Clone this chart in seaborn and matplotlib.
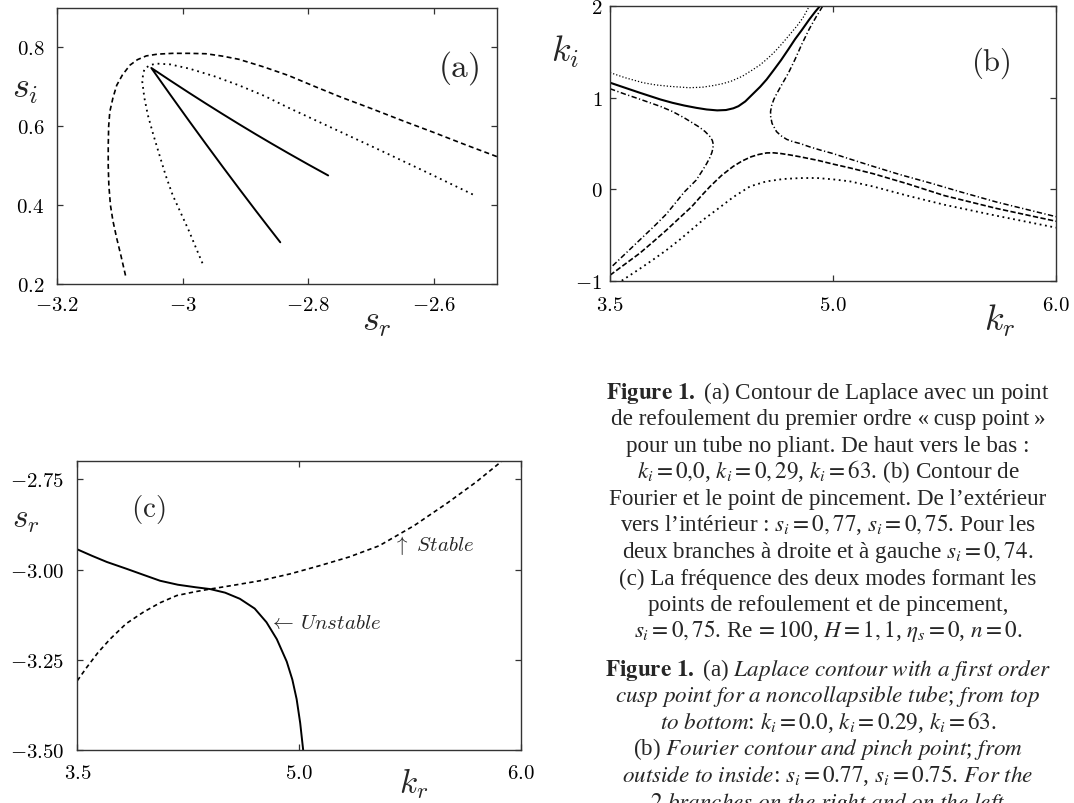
import matplotlib
matplotlib.use("Agg")
import matplotlib.pyplot as plt
import seaborn as sns

# ---------------- data ----------------
# Panel (a): Laplace contour, s_r (x) vs s_i (y)
a_k000_sr = [-3.091, -3.098, -3.105, -3.111, -3.115, -3.1175, -3.1185, -3.1185, -3.1178,
             -3.116, -3.111, -3.105, -3.096, -3.084, -3.072, -3.058, -3.04, -3.016, -2.99,
             -2.963, -2.937, -2.911, -2.872, -2.832, -2.79, -2.75, -2.70, -2.65, -2.60,
             -2.55, -2.50]
a_k000_si = [0.2215, 0.270, 0.316, 0.360, 0.400, 0.450, 0.500, 0.550, 0.600,
             0.637, 0.672, 0.704, 0.730, 0.755, 0.769, 0.7785, 0.783, 0.785, 0.785,
             0.784, 0.778, 0.770, 0.751, 0.729, 0.701, 0.675, 0.645, 0.614, 0.584,
             0.553, 0.523]
a_k029_sr = [-2.9686, -2.979, -2.9896, -3.003, -3.016, -3.027, -3.037, -3.047, -3.0554,
             -3.061, -3.0643, -3.063, -3.0606, -3.052, -3.0422, -3.02, -2.9896, -2.95,
             -2.9107, -2.87, -2.8317, -2.76, -2.6897, -2.61, -2.5345]
a_k029_si = [0.2527, 0.292, 0.333, 0.380, 0.4256, 0.475, 0.527, 0.580, 0.628,
             0.672, 0.7127, 0.733, 0.7463, 0.755, 0.759, 0.757, 0.7463, 0.727,
             0.704, 0.677, 0.647, 0.594, 0.542, 0.482, 0.424]
a_k63_sr = [-2.8448, -2.865, -2.884, -2.91, -2.937, -2.963, -2.99, -3.02, -3.050,
            -3.02, -2.99, -2.963, -2.937, -2.91, -2.884, -2.858, -2.832, -2.80, -2.7686]
a_k63_si = [0.3058, 0.3472, 0.3865, 0.4411, 0.4986, 0.5548, 0.6139, 0.6805, 0.748,
            0.7162, 0.685, 0.6575, 0.6315, 0.605, 0.580, 0.5556, 0.5317, 0.5029, 0.4753]
a_xticks = [-3.2, -3.0, -2.8, -2.6]
a_xticklabels = [r"$-3.2$", r"$-3$", r"$-2.8$", r"$-2.6$"]
a_yticks = [0.2, 0.4, 0.6, 0.8]
a_yticklabels = [r"$0.2$", r"$0.4$", r"$0.6$", r"$0.8$"]

# Panel (b): Fourier contour, k_r (x) vs k_i (y)
b_s077_up_kr = [3.5, 3.6, 3.721, 3.81, 3.9, 4.031, 4.12, 4.2, 4.26, 4.316, 4.39, 4.454,
                4.51, 4.554, 4.60, 4.64, 4.68, 4.721, 4.76, 4.80, 4.840]
b_s077_up_ki = [1.275, 1.22, 1.165, 1.14, 1.125, 1.110, 1.115, 1.135, 1.155, 1.182, 1.235,
                1.30, 1.36, 1.421, 1.49, 1.56, 1.635, 1.714, 1.79, 1.88, 2.0]
b_s075_up_kr = [3.5, 3.6, 3.7, 3.84, 3.92, 4.0, 4.08, 4.15, 4.221, 4.28, 4.33, 4.364, 4.41,
                4.46, 4.51, 4.554, 4.60, 4.65, 4.70, 4.745, 4.79, 4.84, 4.88, 4.911]
b_s075_up_ki = [1.165, 1.11, 1.055, 0.981, 0.945, 0.915, 0.89, 0.872, 0.862, 0.866, 0.885,
                0.908, 0.96, 1.04, 1.12, 1.201, 1.30, 1.41, 1.53, 1.641, 1.74, 1.855, 1.94, 2.0]
b_s074_left_kr = [3.5, 3.6, 3.7, 3.84, 3.92, 4.0, 4.06, 4.1, 4.14, 4.17, 4.188, 4.195, 4.192,
                  4.185, 4.17, 4.15, 4.12, 4.08, 4.0, 3.94, 3.88, 3.8, 3.7, 3.6, 3.5]
b_s074_left_ki = [1.099, 1.04, 0.985, 0.905, 0.85, 0.78, 0.72, 0.68, 0.63, 0.58, 0.535, 0.49,
                  0.445, 0.40, 0.34, 0.28, 0.20, 0.10, -0.03, -0.15, -0.27, -0.40, -0.555,
                  -0.71, -0.865]
b_s074_right_kr = [4.93, 4.885, 4.84, 4.79, 4.745, 4.70, 4.65, 4.62, 4.602, 4.588, 4.58,
                   4.581, 4.59, 4.62, 4.65, 4.689, 4.73, 4.778, 4.84, 4.911, 5.0, 5.114,
                   5.27, 5.45, 5.65, 5.86, 6.1, 6.3, 6.5]
b_s074_right_ki = [2.0, 1.88, 1.751, 1.585, 1.421, 1.27, 1.128, 1.04, 0.982, 0.92, 0.85,
                   0.79, 0.72, 0.63, 0.585, 0.545, 0.52, 0.50, 0.465, 0.43, 0.39, 0.33,
                   0.25, 0.16, 0.07, -0.03, -0.14, -0.22, -0.30]
b_s075_low_kr = [3.5, 3.6, 3.7, 3.79, 3.881, 3.97, 4.05, 4.11, 4.173, 4.25, 4.329, 4.39,
                 4.45, 4.50, 4.554, 4.60, 4.65, 4.71, 4.778, 4.9, 5.0, 5.114, 5.27, 5.5,
                 5.75, 6.1, 6.5]
b_s075_low_ki = [-0.94, -0.82, -0.70, -0.575, -0.445, -0.31, -0.19, -0.08, 0.03, 0.15,
                 0.250, 0.31, 0.355, 0.38, 0.397, 0.398, 0.39, 0.375, 0.355, 0.315, 0.275,
                 0.233, 0.17, 0.06, -0.07, -0.21, -0.35]
b_s077_low_kr = [3.579, 3.7, 3.79, 3.881, 3.97, 4.05, 4.13, 4.217, 4.33, 4.442, 4.55,
                 4.666, 4.78, 4.890, 5.0, 5.114, 5.27, 5.5, 5.75, 6.1, 6.5]
b_s077_low_ki = [-1.0, -0.87, -0.77, -0.664, -0.55, -0.44, -0.33, -0.225, -0.085, 0.031,
                 0.085, 0.112, 0.122, 0.123, 0.108, 0.086, 0.03, -0.07, -0.17, -0.29, -0.42]
b_xticks = [3.5, 5.0, 6.5]
b_xticklabels = [r"$3.5$", r"$5.0$", r"$6.0$"]
b_yticks = [-1, 0, 1, 2]
b_yticklabels = [r"$-1$", r"$0$", r"$1$", r"$2$"]

# Panel (c): frequency of the two modes, k_r (x) vs s_r (y)
c_unstable_kr = [3.5, 3.6, 3.7, 3.834, 3.95, 4.06, 4.18, 4.30, 4.398, 4.50, 4.60, 4.70,
                 4.78, 4.85, 4.917, 4.955, 4.984, 5.008, 5.029]
c_unstable_sr = [-2.944, -2.962, -2.979, -2.998, -3.015, -3.031, -3.042, -3.049, -3.054,
                 -3.064, -3.081, -3.108, -3.146, -3.193, -3.255, -3.305, -3.359, -3.425, -3.503]
c_stable_kr = [3.5, 3.564, 3.64, 3.721, 3.83, 3.947, 4.06, 4.173, 4.29, 4.398, 4.55, 4.736,
               4.94, 5.142, 5.34, 5.543, 5.78, 6.009, 6.2, 6.371]
c_stable_sr = [-3.308, -3.271, -3.23, -3.193, -3.15, -3.118, -3.092, -3.072, -3.062, -3.054,
               -3.044, -3.031, -3.012, -2.989, -2.965, -2.934, -2.878, -2.814, -2.757, -2.70]
c_xticks = [3.5, 5.0, 6.5]
c_xticklabels = [r"$3.5$", r"$5.0$", r"$6.0$"]
c_yticks = [-3.5, -3.25, -3.0, -2.75]
c_yticklabels = [r"$-3.50$", r"$-3.25$", r"$-3.00$", r"$-2.75$"]

caption_lines = [
    r"$\mathbf{Figure\ 1.}$ (a) Contour de Laplace avec un point",
    "de refoulement du premier ordre «\u2009cusp point\u2009»",
    "pour un tube no pliant. De haut vers le bas :",
    r"$k_i=0{,}0$, $k_i=0,29$, $k_i=63$. (b) Contour de",
    "Fourier et le point de pincement. De l\u2019extérieur",
    r"vers l’intérieur : $s_i=0,77$, $s_i=0,75$. Pour les",
    r"deux branches à droite et à gauche $s_i=0,74$.",
    "(c) La fréquence des deux modes formant les",
    "points de refoulement et de pincement,",
    r"$s_i=0,75$. Re$\,=100$, $H=1,1$, $\eta_s=0$, $n=0$.",
    r"$\mathbf{Figure\ 1.}$ (a) $\mathit{Laplace\ contour\ with\ a\ first\ order}$",
    r"$\mathit{cusp\ point\ for\ a\ noncollapsible\ tube}$; $\mathit{from\ top}$",
    r"$\mathit{to\ bottom}$: $k_i=0.0$, $k_i=0.29$, $k_i=63$.",
    r"(b) $\mathit{Fourier\ contour\ and\ pinch\ point}$; $\mathit{from}$",
    r"$\mathit{outside\ to\ inside}$: $s_i=0.77$, $s_i=0.75$. $\mathit{For\ the}$",
    r"$\mathit{2\ branches\ on\ the\ right\ and\ on\ the\ left}$",
]

# ---------------- style ----------------
sns.set_theme(style="ticks")
plt.rcParams.update({
    "font.family": ["Liberation Serif", "DejaVu Serif"],
    "mathtext.fontset": "cm",
    "axes.edgecolor": "#333333",
    "axes.linewidth": 1.0,
    "axes.facecolor": "white",
    "figure.facecolor": "white",
    "xtick.color": "#333333",
    "ytick.color": "#333333",
    "xtick.labelcolor": "black",
    "ytick.labelcolor": "black",
})

W, H = 1074, 804
fig = plt.figure(figsize=(W / 100, H / 100), dpi=100)


def px_axes(left, top, right, bottom):
    return fig.add_axes([left / W, 1 - bottom / H, (right - left) / W, (bottom - top) / H])


ax_a = px_axes(57, 9, 497, 285)
ax_b = px_axes(610, 7.3, 1056, 281.7)
ax_c = px_axes(77.3, 462.3, 520.7, 751)

K = "black"


def curve(ax, x, y, ls, lw=1.3):
    sns.lineplot(x=x, y=y, ax=ax, sort=False, estimator=None, color=K,
                 linewidth=lw, linestyle=ls, legend=False)


# (a)
curve(ax_a, a_k000_sr, a_k000_si, (0, (3.0, 2.0)), 1.2)
curve(ax_a, a_k029_sr, a_k029_si, (0, (1.0, 2.2)), 1.3)
curve(ax_a, a_k63_sr, a_k63_si, "-", 1.4)
ax_a.set_xlim(-3.2, -2.5)
ax_a.set_ylim(0.2, 0.9)

# (b)
curve(ax_b, b_s077_up_kr, b_s077_up_ki, (0, (1.0, 1.6)), 0.9)
curve(ax_b, b_s075_up_kr, b_s075_up_ki, "-", 1.5)
curve(ax_b, b_s074_left_kr, b_s074_left_ki, (0, (3.5, 1.6, 0.8, 1.6)), 1.1)
curve(ax_b, b_s074_right_kr, b_s074_right_ki, (0, (3.5, 1.6, 0.8, 1.6)), 1.1)
curve(ax_b, b_s075_low_kr, b_s075_low_ki, (0, (3.2, 1.4)), 1.2)
curve(ax_b, b_s077_low_kr, b_s077_low_ki, (0, (1.0, 2.0)), 1.3)
ax_b.set_xlim(3.5, 6.5)
ax_b.set_ylim(-1, 2)

# (c)
curve(ax_c, c_unstable_kr, c_unstable_sr, "-", 1.4)
curve(ax_c, c_stable_kr, c_stable_sr, (0, (2.6, 2.0)), 1.2)
ax_c.set_xlim(3.5, 6.5)
ax_c.set_ylim(-3.5, -2.7)

setup = [
    (ax_a, a_xticks, a_xticklabels, a_yticks, a_yticklabels, 8.5, 9),
    (ax_b, b_xticks, b_xticklabels, b_yticks, b_yticklabels, 11, 5.5),
    (ax_c, c_xticks, c_xticklabels, c_yticks, c_yticklabels, 10, 9.5),
]
for ax, xt, xtl, yt, ytl, xpad, ypad in setup:
    ax.set_xticks(xt, labels=xtl)
    ax.set_yticks(yt, labels=ytl)
    ax.tick_params(direction="in", length=4, width=0.9, top=True, right=True, labelsize=15)
    ax.tick_params(axis="x", pad=xpad)
    ax.tick_params(axis="y", pad=ypad)
    for s in ax.spines.values():
        s.set_visible(True)
        s.set_color("#333333")
        s.set_linewidth(1.0)
    ax.grid(False)


def labels(ax, xl, yl, xpos, ypos, size=26):
    ax.set_xlabel(xl, fontsize=size, va="center", ha="center")
    ax.xaxis.set_label_coords(*xpos)
    ax.set_ylabel(yl, fontsize=size, rotation=0, va="center", ha="center")
    ax.yaxis.set_label_coords(*ypos)


labels(ax_a, r"$s_r$", r"$s_i$", (0.727, -0.135), (-0.072, 0.707))
labels(ax_b, r"$k_r$", r"$k_i$", (0.874, -0.142), (-0.101, 0.838))
labels(ax_c, r"$k_r$", r"$s_r$", (0.759, -0.112), (-0.116, 0.80), size=24)

ax_a.text(0.912, 0.785, r"$\mathrm{(a)}$", transform=ax_a.transAxes, fontsize=24,
          ha="center", va="center")
ax_b.text(0.853, 0.795, r"$\mathrm{(b)}$", transform=ax_b.transAxes, fontsize=22,
          ha="center", va="center")
ax_c.text(0.160, 0.835, r"$\mathrm{(c)}$", transform=ax_c.transAxes, fontsize=21,
          ha="center", va="center")
ax_c.text(0.712, 0.711, r"$\uparrow\ Stable$", transform=ax_c.transAxes, fontsize=15,
          ha="left", va="center")
ax_c.text(0.432, 0.4365, r"$\leftarrow\,Unstable$", transform=ax_c.transAxes, fontsize=15,
          ha="left", va="center")

# caption (the last line is cut by the figure edge, as in the reference)
xc = 828 / W
y0, step, gap = 399, 26.5, 38.5
for i, line in enumerate(caption_lines):
    yb = y0 + i * step + (gap - step if i >= 10 else 0)
    fig.text(xc, 1 - yb / H, line, ha="center", va="baseline", fontsize=16.7,
             math_fontfamily="stix")

fig.savefig("out.png", dpi=100)
